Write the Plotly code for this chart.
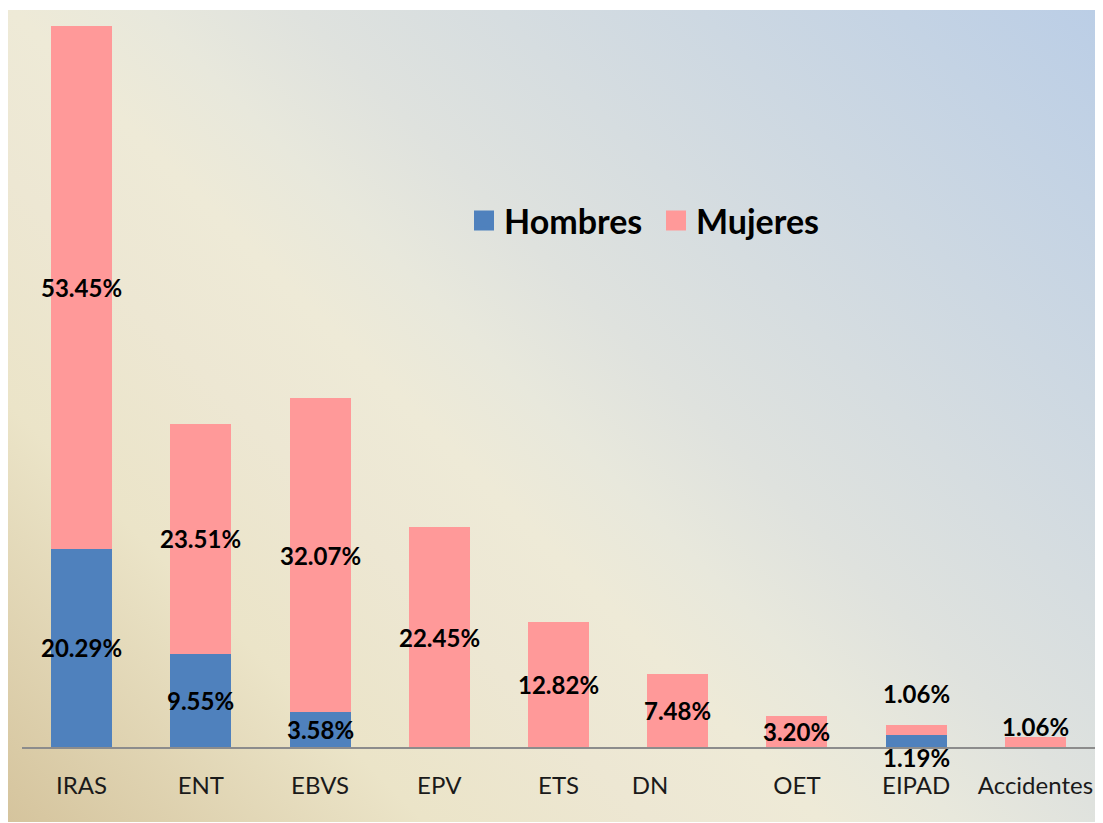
import base64
import plotly.graph_objects as go

# ---- data ----
categorias = ["IRAS", "ENT", "EBVS", "EPV", "ETS", "DN", "OET", "EIPAD", "Accidentes"]
hombres = [20.29, 9.55, 3.58, 0, 0, 0, 0, 1.19, 0]
mujeres = [53.45, 23.51, 32.07, 22.45, 12.82, 7.48, 3.20, 1.06, 1.06]
etiquetas_eje = ["IRAS", "ENT", "EBVS", "EPV", "ETS", "DN" + "\u00a0" * 9, "OET", "EIPAD", "Accidentes"]

# manual label nudges (px) as in the original
ajuste_h = {"EIPAD": -16}
ajuste_m = {"EIPAD": 37, "Accidentes": 15}

AZUL = "#4f81bd"
ROSA = "#ff9999"
FONT = "Lato, Open Sans, sans-serif"

# page body has an 8px margin, so the figure starts at (8, 8) of the window
W, H = 1087, 814
ML, MR, MT = 14, 0, 2
PH = 737
MB = H - MT - PH
PW = W - ML - MR

# background gradient (45 degrees in pixel space)
BGW, BGH = W, H - MT
svg = f'''<svg xmlns="http://www.w3.org/2000/svg" width="{BGW}" height="{BGH}" viewBox="0 0 {BGW} {BGH}" preserveAspectRatio="none">
<defs><linearGradient id="g" gradientUnits="userSpaceOnUse" x1="0" y1="{BGH}" x2="{(BGW+BGH)/2}" y2="{BGH-(BGW+BGH)/2}">
<stop offset="0" stop-color="#d5c49d"/>
<stop offset="0.22" stop-color="#ebe4c8"/>
<stop offset="0.34" stop-color="#ede7d3"/>
<stop offset="0.43" stop-color="#eeead7"/>
<stop offset="0.50" stop-color="#e8e8dc"/>
<stop offset="0.58" stop-color="#dfe2de"/>
<stop offset="1" stop-color="#bbcee6"/>
</linearGradient></defs>
<rect x="0" y="0" width="{BGW}" height="{BGH}" fill="url(#g)"/></svg>'''
src = "data:image/svg+xml;base64," + base64.b64encode(svg.encode()).decode()

fig = go.Figure()
fig.add_trace(go.Bar(x=categorias, y=hombres, name="Hombres", marker=dict(color=AZUL, line=dict(width=0)),
                     showlegend=False, hoverinfo="skip"))
fig.add_trace(go.Bar(x=categorias, y=mujeres, name="Mujeres", marker=dict(color=ROSA, line=dict(width=0)),
                     showlegend=False, hoverinfo="skip"))
# legend entries with larger square swatches
for nombre, color in (("Hombres", AZUL), ("Mujeres", ROSA)):
    fig.add_trace(go.Scatter(x=[None], y=[None], mode="markers", name=nombre,
                             marker=dict(symbol="square", size=16, color=color, line=dict(width=4, color=color))))

anots = []
for c, h, m in zip(categorias, hombres, mujeres):
    if h > 0:
        anots.append(dict(x=c, y=h / 2, text=f"{h:.2f}%", showarrow=False, yshift=ajuste_h.get(c, 0),
                          font=dict(family=FONT, size=24, color="#000000", weight="bold")))
    if m > 0:
        anots.append(dict(x=c, y=h + m / 2, text=f"{m:.2f}%", showarrow=False, yshift=ajuste_m.get(c, 0),
                          font=dict(family=FONT, size=24, color="#000000", weight="bold")))

fig.update_layout(
    width=W, height=H,
    margin=dict(l=ML, r=MR, t=MT, b=MB),
    paper_bgcolor="white",
    plot_bgcolor="rgba(0,0,0,0)",
    barmode="stack",
    bargap=0.488,
    annotations=anots,
    images=[dict(source=src, xref="paper", yref="paper",
                 x=-ML / PW, y=1.0, sizex=BGW / PW, sizey=BGH / PH,
                 xanchor="left", yanchor="top", sizing="stretch", layer="below")],
    legend=dict(orientation="h", traceorder="normal", x=(456 - ML) / PW, xanchor="left",
                y=(739 - 213) / PH, yanchor="middle", bgcolor="rgba(0,0,0,0)",
                entrywidth=147, entrywidthmode="pixels",
                font=dict(family=FONT, size=34, color="#000000", weight="bold")),
    xaxis=dict(tickmode="array", tickvals=categorias, ticktext=etiquetas_eje,
               range=[-0.5, len(categorias) - 0.5],
               showline=True, linecolor="#8c8c8c", linewidth=1.5,
               ticks="outside", ticklen=16, tickcolor="rgba(0,0,0,0)",
               showgrid=False, zeroline=False,
               tickfont=dict(family=FONT, size=24, color="#1a1a1a")),
    yaxis=dict(range=[0, PH / 9.78], visible=False, showgrid=False, zeroline=False),
    showlegend=True,
)

fig.write_html("out.html")
